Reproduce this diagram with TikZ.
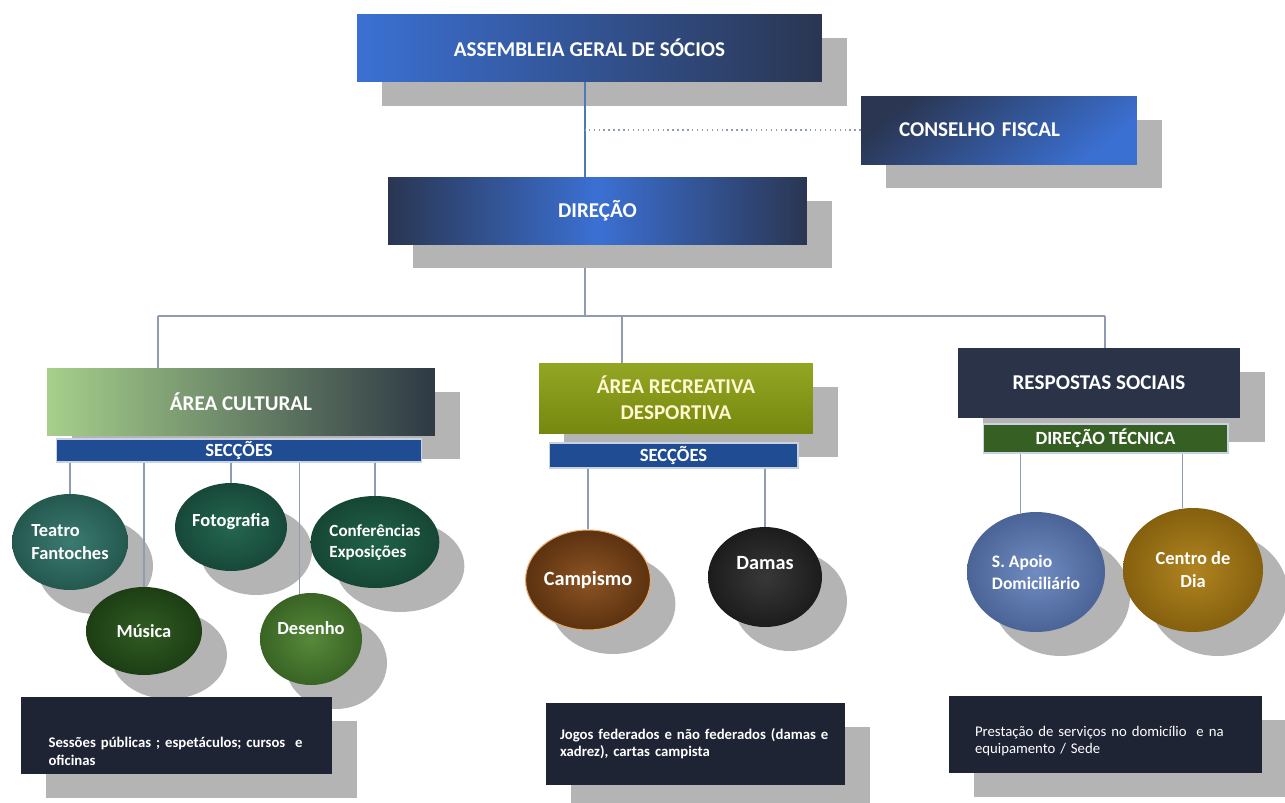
\documentclass[tikz,border=0pt]{standalone}
\usepackage{fontspec}
\setmainfont{Carlito}
\usetikzlibrary{shapes.geometric, shadows, calc}

\definecolor{brightblue}{HTML}{3B70D3}
\definecolor{darknavy}{HTML}{2A3652}
\definecolor{shadowgray}{HTML}{B4B4B4}
\definecolor{linegray}{HTML}{8E9CB1}
\definecolor{trunkblue}{HTML}{4B7BB6}
\definecolor{barblue}{HTML}{1F4C92}
\definecolor{barline}{HTML}{C9D2E0}
\definecolor{lightgreen}{HTML}{A6D08B}
\definecolor{slate}{HTML}{2E3944}
\definecolor{olivelight}{HTML}{93A623}
\definecolor{olivedark}{HTML}{76880F}
\definecolor{cream}{HTML}{FFF7CF}
\definecolor{respnavy}{HTML}{2B3349}
\definecolor{tecgreen}{HTML}{365F23}
\definecolor{notenavy}{HTML}{1E2434}
% section colours (inner / outer)
\definecolor{teatroin}{HTML}{3B7B71}  \definecolor{teatroout}{HTML}{24584F}
\definecolor{musicain}{HTML}{305C23}  \definecolor{musicaout}{HTML}{1D3E14}
\definecolor{fotoin}{HTML}{246750}    \definecolor{fotoout}{HTML}{174839}
\definecolor{desenhoin}{HTML}{56893A} \definecolor{desenhoout}{HTML}{396424}
\definecolor{confin}{HTML}{20624A}    \definecolor{confout}{HTML}{164634}
\definecolor{campin}{HTML}{8C5424}    \definecolor{campout}{HTML}{5C3210}
\definecolor{campline}{HTML}{E6AA6E}
\definecolor{damasin}{HTML}{383838}   \definecolor{damasout}{HTML}{1C1C1C}
\definecolor{apoioin}{HTML}{708CC0}   \definecolor{apoioout}{HTML}{4B6498}
\definecolor{centroin}{HTML}{B08420}  \definecolor{centroout}{HTML}{85600E}

\tikzset{
  greyshadow/.style={drop shadow={shadow xshift=0.5cm, shadow yshift=-0.48cm, fill=shadowgray, opacity=1}},
  orgbox/.style={rectangle, inner sep=0pt, text=white, align=center,
    font=\bfseries\fontsize{12}{15}\selectfont, greyshadow},
  barbox/.style={rectangle, inner sep=0pt, draw=barline, line width=0.6pt, text=white,
    font=\bfseries\fontsize{10.6}{12}\selectfont},
  section/.style={ellipse, inner sep=0pt, text=white, align=left,
    font=\bfseries\fontsize{10.5}{13}\selectfont, greyshadow},
  notebox/.style={rectangle, fill=notenavy, text=white, align=left,
    font=\bfseries\fontsize{8.4}{9.8}\selectfont, greyshadow},
  link/.style={draw=linegray, line width=0.7pt}
}

\begin{document}
\begin{tikzpicture}[x=0.02cm, y=-0.02cm]
  \useasboundingbox[fill=white] (0,0) rectangle (1285,802);

  % top of the chart
  \node[orgbox, left color=brightblue, right color=darknavy,
    minimum width=9.3cm, minimum height=1.36cm] (asm) at (589.5,48) {ASSEMBLEIA GERAL DE SÓCIOS};
  \node[orgbox, top color=darknavy, bottom color=brightblue, shading angle=40,
    minimum width=5.52cm, minimum height=1.36cm, text width=4cm, inner xsep=0.76cm, align=left]
    (cons) at (999,130) {CONSELHO FISCAL};
  \node[orgbox, left color=darknavy, right color=darknavy, middle color=brightblue,
    minimum width=8.38cm, minimum height=1.34cm] (dir) at (597.5,210.5) {DIREÇÃO};

  % the three areas
  \node[orgbox, left color=lightgreen, right color=slate,
    minimum width=7.76cm, minimum height=1.34cm] (cult) at (241,401.5) {ÁREA CULTURAL};
  \node[barbox, fill=barblue, minimum width=7.32cm, minimum height=0.46cm] (secC) at (239,450.5) {SECÇÕES};

  \node[orgbox, top color=olivelight, bottom color=olivedark, text=cream,
    minimum width=5.48cm, minimum height=1.4cm] (rec) at (676,398) {ÁREA RECREATIVA\\DESPORTIVA};
  \node[barbox, fill=barblue, minimum width=4.98cm, minimum height=0.5cm] (secR) at (673.5,455.5) {SECÇÕES};

  \node[orgbox, fill=respnavy, minimum width=5.64cm, minimum height=1.4cm] (resp) at (1099,383) {RESPOSTAS SOCIAIS};
  \node[barbox, fill=tecgreen, minimum width=4.9cm, minimum height=0.58cm] (dtec) at (1105.5,438.5) {DIREÇÃO TÉCNICA};

  % sections
  \node[section, inner color=teatroin, outer color=teatroout,
    minimum width=2.32cm, minimum height=1.92cm] (teatro) at (70,542) {Teatro\\Fantoches};
  \node[section, inner color=musicain, outer color=musicaout,
    minimum width=2.32cm, minimum height=1.76cm] (musica) at (144,631) {Música};
  \node[section, inner color=fotoin, outer color=fotoout,
    minimum width=2.24cm, minimum height=1.76cm] (foto) at (231,527) {Fotografia\\[-5pt]};
  \node[section, inner color=desenhoin, outer color=desenhoout,
    minimum width=2.04cm, minimum height=1.84cm] (desenho) at (311,639) {Desenho\\[0pt]};
  \node[section, inner color=confin, outer color=confout,
    minimum width=2.24cm, minimum height=1.84cm, font=\bfseries\fontsize{9.7}{12}\selectfont]
    (conf) at (375,542) {Conferências\\Exposições};

  \node[section, inner color=campin, outer color=campout, draw=campline, line width=0.6pt,
    font=\bfseries\fontsize{11.5}{13}\selectfont,
    minimum width=2.36cm, minimum height=2cm] (campismo) at (588,580) {Campismo};
  \node[section, inner color=damasin, outer color=damasout,
    font=\bfseries\fontsize{11.5}{13}\selectfont,
    minimum width=2.28cm, minimum height=2cm] (damas) at (765,577) {Damas\\[3pt]};

  \node[section, inner color=apoioin, outer color=apoioout,
    font=\bfseries\fontsize{10}{12.5}\selectfont,
    minimum width=2.76cm, minimum height=2.4cm] (apoio) at (1036,572) {S. Apoio\\Domiciliário};
  \node[section, inner color=centroin, outer color=centroout,
    align=center, minimum width=2.8cm, minimum height=2.48cm] (centro) at (1193,570) {Centro de\\Dia};

  % notes at the bottom
  \node[notebox, minimum width=6.22cm, minimum height=1.54cm, text width=5.12cm, inner xsep=0.55cm, text height=24pt]
    (ncult) at (176.5,735.5) {Sessões públicas ; espetáculos; cursos\ \ e\\oficinas};
  \node[notebox, minimum width=5.98cm, minimum height=1.64cm, text width=5.42cm, inner xsep=0.28cm]
    (nrec) at (695.5,744) {Jogos federados e não federados (damas e\\xadrez), cartas campista};
  \node[notebox, minimum width=6.26cm, minimum height=1.54cm, text width=5.22cm, inner xsep=0.52cm, text height=13pt,
    font=\fontsize{8.4}{9.8}\selectfont]
    (nresp) at (1105.5,734.5) {Prestação de serviços no domicílio\ \ e na\\equipamento / Sede};

  % connectors
  \coordinate (trunk) at (585,316);
  \coordinate (busL) at (158,316);
  \coordinate (busM) at (622,316);
  \coordinate (busR) at (1105,316);
  \draw[draw=trunkblue, line width=1.3pt] (asm.south -| trunk) -- (dir.north -| trunk);
  \draw[draw=linegray, line width=0.8pt, dotted] (cons.west) -- (cons.west -| trunk);
  \draw[link, shorten <=0.48cm] (dir.south -| trunk) -- (trunk);
  \draw[link] (busL) -- (busR);
  \draw[link] (busL) -- (busL |- cult.north);
  \draw[link] (busM) -- (busM |- rec.north);
  \draw[link] (busR) -- (busR |- resp.north);

  \draw[link] (secC.south -| teatro.north) -- (teatro.north);
  \draw[link] (secC.south -| musica.north) -- (musica.north);
  \draw[link] (secC.south -| foto.north) -- (foto.north);
  \draw[link] (secC.south -| desenho.104) -- (desenho.104);
  \draw[link] (secC.south -| conf.north) -- (conf.north);

  \draw[link] (secR.south -| campismo.north) -- (campismo.north);
  \draw[link] (secR.south -| damas.north) -- (damas.north);

  \draw[link] (dtec.south -| apoio.105) -- (apoio.105);
  \draw[link] (dtec.south -| centro.100) -- (centro.100);
\end{tikzpicture}
\end{document}
